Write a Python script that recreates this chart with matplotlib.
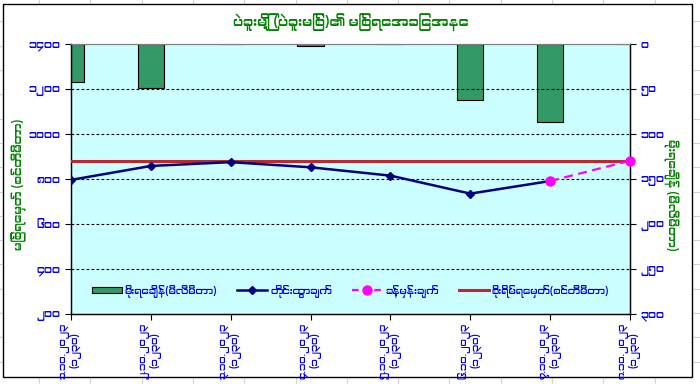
import matplotlib
matplotlib.use("Agg")
import matplotlib.pyplot as plt
import matplotlib.font_manager as fm
from matplotlib.patches import Rectangle
from matplotlib.lines import Line2D

# Font: use any Myanmar-capable font if installed, else DejaVu
mm_fonts = sorted({f.name for f in fm.fontManager.ttflist
                   if 'Myanmar' in f.name or 'Padauk' in f.name})
plt.rcParams['font.family'] = mm_fonts + ['DejaVu Sans']

# ---------------- data ----------------
title = "ပဲခူးမြို့ (ပဲခူးမြစ်)၏ မြစ်ရေအခြေအနေ"
dates = ["၁.၁၀.၂၀၂၃", "၂.၁၀.၂၀၂၃", "၃.၁၀.၂၀၂၃", "၄.၁၀.၂၀၂၃",
         "၅.၁၀.၂၀၂၃", "၆.၁၀.၂၀၂၃", "၇.၁၀.၂၀၂၃", "၈.၁၀.၂၀၂၃"]
obs_time = "(၁၂၃၀)"
rainfall = [42, 49, 0, 2, 0, 62, 87, 0]                       # mm (right axis)
measured = [796, 858, 875, 852, 815, 735, 791, None]          # cm
forecast = [None, None, None, None, None, None, 791, 881]     # cm
danger_level = 880                                            # cm

left_ticks = [200, 400, 600, 800, 1000, 1200, 1400]
left_tick_labels = ["၂၀၀", "၄၀၀", "၆၀၀", "၈၀၀", "၁၀၀၀", "၁၂၀၀", "၁၄၀၀"]
right_ticks = [0, 50, 100, 150, 200, 250, 300]
right_tick_labels = ["၀", "၅၀", "၁၀၀", "၁၅၀", "၂၀၀", "၂၅၀", "၃၀၀"]

left_label = "မြစ်ရေမှတ် (စင်တီမီတာ)"
right_label = "မိုးရေချိန် (မီလီမီတာ)"
legend_labels = ["မိုးရေချိန်(မီလီမီတာ)", "တိုင်းထွာချက်", "ခန့်မှန်းချက်",
                 "စိုးရိမ်ရေမှတ်(စင်တီမီတာ)"]

# ---------------- figure ----------------
W, H = 700, 384
fig = plt.figure(figsize=(W / 100, H / 100), dpi=100)
fig.patch.set_facecolor("white")

# spreadsheet cell grid behind the chart
for k in range(-1, 15):
    xx = 39 + 51.3 * k
    fig.add_artist(Line2D([xx / W, xx / W], [0, 1], color="#D4D4D4", lw=0.8,
                          transform=fig.transFigure, zorder=-3))
for k in range(-2, 17):
    yy = 70 + 24.3 * k
    fig.add_artist(Line2D([0, 1], [1 - yy / H, 1 - yy / H], color="#D4D4D4", lw=0.8,
                          transform=fig.transFigure, zorder=-3))
# chart area
fig.add_artist(Rectangle((3 / W, 1 - 377 / H), (692 - 3) / W, (377 - 4) / H,
                         facecolor="white", edgecolor="black", lw=1.0,
                         transform=fig.transFigure, zorder=-2))

left, right, top, bottom = 71, 630, 44, 314
ax = fig.add_axes([left / W, 1 - bottom / H, (right - left) / W, (bottom - top) / H])
ax2 = ax.twinx()

x = list(range(len(dates)))

# bars (rainfall, right axis inverted)
ax2.bar(x, rainfall, width=0.33, color="#339966", edgecolor="black", linewidth=0.8,
        zorder=2)
ax2.set_ylim(300, 0)
ax2.set_yticks(right_ticks)
ax2.set_yticklabels(right_tick_labels)

# lines (left axis) drawn above the bars
ax.set_zorder(ax2.get_zorder() + 1)
ax.patch.set_visible(False)
ax2.patch.set_visible(True)
ax2.patch.set_facecolor("#CCFFFF")

ax.axhline(danger_level, color="#C0272D", lw=2.2, zorder=3)
mx = [i for i, v in enumerate(measured) if v is not None]
ax.plot(mx, [measured[i] for i in mx], color="#000080", lw=1.8, marker="D",
        markersize=4.5, zorder=4)
fx = [i for i, v in enumerate(forecast) if v is not None]
ax.plot(fx, [forecast[i] for i in fx], color="#FF00FF", lw=1.6, ls=(0, (4, 2.5)),
        marker="o", markersize=6.5, zorder=5, clip_on=False)

ax.set_ylim(200, 1400)
ax.set_yticks(left_ticks)
ax.set_yticklabels(left_tick_labels)
ax.set_xlim(0, len(dates) - 1)
ax.set_xticks(x)
ax.set_xticklabels([d + "\n" + obs_time for d in dates], rotation=90,
                   multialignment="center", fontsize=7.3, color="#0000E0",
                   linespacing=1.0)

for yv in left_ticks[1:-1]:
    ax.axhline(yv, color="black", lw=0.8, ls=(0, (2.5, 2)), zorder=1)

ax.tick_params(axis="y", colors="black", labelcolor="#0000E0", labelsize=8,
               direction="out", length=4, width=0.8)
ax.tick_params(axis="x", direction="out", length=4, width=0.8, pad=2)
ax2.tick_params(axis="y", colors="black", labelcolor="#0000E0", labelsize=8,
                direction="out", length=4, width=0.8)

for a in (ax, ax2):
    for s in ("left", "right", "bottom"):
        a.spines[s].set_color("black")
        a.spines[s].set_linewidth(0.9)
    a.spines["top"].set_color("#808080")
    a.spines["top"].set_linewidth(0.8)

fig.text((left + right) / 2 / W, 1 - 23 / H, title, ha="center", va="center",
         fontsize=10, fontweight="bold", color="#008000")
fig.text(19 / W, 1 - 184 / H, left_label, rotation=90, ha="center", va="center",
         fontsize=8.5, color="#008000")
fig.text(671 / W, 1 - 195 / H, right_label, rotation=-90, ha="center", va="center",
         fontsize=8.5, color="#008000")

handles = [
    Rectangle((0, 0), 1, 1, facecolor="#339966", edgecolor="black", lw=0.8),
    Line2D([], [], color="#000080", lw=1.8, marker="D", markersize=4.5),
    Line2D([], [], color="#FF00FF", lw=1.6, ls=(0, (3, 2)), marker="o", markersize=6.5),
    Line2D([], [], color="#C0272D", lw=2.2),
]
leg = ax.legend(handles, legend_labels, ncol=4, loc="center",
                bbox_to_anchor=(0.5, 0.085), frameon=False, fontsize=7.2,
                handlelength=3.0, handleheight=0.5, columnspacing=2.0,
                handletextpad=0.3, labelcolor="#0000E0")

fig.savefig("out.png", dpi=100, facecolor="white")
